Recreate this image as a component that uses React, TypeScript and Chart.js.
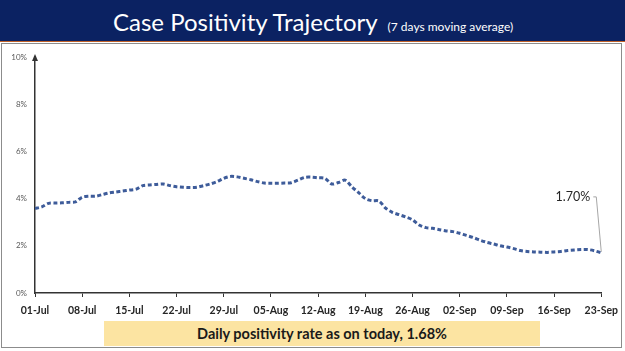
import React, { useEffect, useRef } from "react";
import { Chart, registerables } from "chart.js";

Chart.register(...registerables);

// ---- Data ----
const tickLabels = [
  "01-Jul", "08-Jul", "15-Jul", "22-Jul", "29-Jul", "05-Aug", "12-Aug",
  "19-Aug", "26-Aug", "02-Sep", "09-Sep", "16-Sep", "23-Sep",
];

// Daily 7-day moving average positivity (%), 01-Jul .. 23-Sep (85 days)
const positivity = [
  3.58, 3.65, 3.80, 3.81, 3.82, 3.84, 3.86,
  4.06, 4.10, 4.10, 4.17, 4.24, 4.28, 4.32,
  4.36, 4.40, 4.55, 4.58, 4.60, 4.62, 4.55,
  4.50, 4.48, 4.47, 4.48, 4.55, 4.62, 4.72,
  4.86, 4.94, 4.92, 4.86, 4.80, 4.72, 4.66,
  4.65, 4.65, 4.66, 4.67, 4.78, 4.90, 4.91,
  4.88, 4.86, 4.62, 4.68, 4.78, 4.50, 4.25,
  4.00, 3.91, 3.90, 3.60, 3.42, 3.32, 3.22,
  3.10, 2.88, 2.77, 2.74, 2.68, 2.63, 2.60,
  2.53, 2.44, 2.35, 2.24, 2.15, 2.08, 2.00,
  1.95, 1.88, 1.80, 1.76, 1.74, 1.73, 1.72,
  1.74, 1.76, 1.80, 1.82, 1.84, 1.84, 1.79,
  1.70,
];

const yMin = 0;
const yMax = 10;
const yStep = 2;
const xStepDays = 7;

const latestLabel = "1.70%";
const titleText = "Case Positivity Trajectory";
const subtitleText = "(7 days moving average)";
const footerText = "Daily positivity rate as on today, 1.68%";

const LINE_COLOR = "#3E5C9A";
const AXIS_COLOR = "#333333";

const overlayPlugin = {
  id: "overlay",
  afterDatasetsDraw(chart: any) {
    const { ctx, chartArea } = chart;
    // y-axis arrow head
    ctx.save();
    ctx.fillStyle = AXIS_COLOR;
    ctx.beginPath();
    ctx.moveTo(chartArea.left, chartArea.top - 3);
    ctx.lineTo(chartArea.left - 3, chartArea.top + 4);
    ctx.lineTo(chartArea.left + 3, chartArea.top + 4);
    ctx.closePath();
    ctx.fill();
    ctx.restore();

    // last value annotation
    const meta = chart.getDatasetMeta(0);
    const pt = meta.data[meta.data.length - 1];
    if (!pt) return;
    const tx = pt.x - 11;
    const ty = pt.y - 56;
    ctx.save();
    ctx.font = "12.5px Lato";
    ctx.fillStyle = "#262626";
    ctx.textAlign = "right";
    ctx.textBaseline = "middle";
    ctx.fillText(latestLabel, tx, ty);
    ctx.strokeStyle = "#A6A6A6";
    ctx.lineWidth = 1;
    ctx.beginPath();
    ctx.moveTo(tx + 3, ty);
    ctx.lineTo(tx + 6, ty);
    ctx.lineTo(pt.x, pt.y - 1);
    ctx.stroke();
    ctx.restore();
  },
};

function PositivityChart() {
  const ref = useRef<HTMLCanvasElement | null>(null);
  useEffect(() => {
    if (!ref.current) return;
    const chart = new Chart(ref.current, {
      type: "line",
      data: {
        datasets: [
          {
            data: positivity.map((v, i) => ({ x: i, y: v })),
            borderColor: LINE_COLOR,
            borderWidth: 3,
            borderDash: [4, 2.5],
            pointRadius: 0,
            tension: 0.3,
            fill: false,
          },
        ],
      },
      options: {
        animation: false,
        responsive: false,
        maintainAspectRatio: false,
        layout: { padding: { top: 13, right: 19, left: 0, bottom: 0 } },
        plugins: { legend: { display: false }, tooltip: { enabled: false } },
        scales: {
          x: {
            type: "linear",
            min: 0,
            max: positivity.length - 1,
            afterBuildTicks: (s: any) => {
              s.ticks = tickLabels.map((_, i) => ({ value: i * xStepDays }));
            },
            ticks: {
              callback: (v: any) => tickLabels[Math.round(Number(v) / xStepDays)],
              font: { family: "Lato", weight: "bold", size: 10.5 },
              color: "#262626",
              padding: 7,
              maxRotation: 0,
              autoSkip: false,
            },
            grid: {
              display: true,
              drawOnChartArea: false,
              drawTicks: true,
              tickLength: 4,
              color: AXIS_COLOR,
              lineWidth: 1,
            },
            border: { display: true, color: AXIS_COLOR, width: 1.5 },
            afterFit: (s: any) => {
              s.height = 31;
            },
          },
          y: {
            min: yMin,
            max: yMax,
            ticks: {
              stepSize: yStep,
              callback: (v: any) => `${v}%`,
              font: { family: "Lato", size: 8 },
              color: "#595959",
              padding: 8,
            },
            grid: { display: true, drawOnChartArea: false, drawTicks: false },
            border: { display: true, color: AXIS_COLOR, width: 1.5 },
            afterFit: (s: any) => {
              s.width = 35;
            },
          },
        },
      },
      plugins: [overlayPlugin],
    } as any);
    return () => chart.destroy();
  }, []);
  return (
    <canvas
      ref={ref}
      width={625}
      height={280}
      style={{ position: "absolute", left: 0, top: 44, width: 625, height: 280 }}
    />
  );
}

export default function App() {
  return (
    <div
      style={{
        position: "fixed",
        left: 0,
        top: 0,
        width: 625,
        height: 351,
        background: "#ffffff",
        overflow: "hidden",
        fontFamily: "Lato, sans-serif",
      }}
    >
      <div
        style={{
          position: "absolute",
          left: 0,
          top: 0,
          width: 625,
          height: 41,
          background: "#0B2262",
        }}
      />
      <div
        style={{
          position: "absolute",
          left: 113,
          top: 10,
          whiteSpace: "nowrap",
          color: "#ffffff",
          lineHeight: "24px",
        }}
      >
        <span style={{ fontSize: 24 }}>{titleText}</span>
        <span style={{ fontSize: 12, marginLeft: 10 }}>{subtitleText}</span>
      </div>
      <div
        style={{
          position: "absolute",
          left: 0,
          top: 41,
          width: 625,
          height: 1,
          background: "#C0622A",
        }}
      />
      <div
        style={{
          position: "absolute",
          left: 1,
          top: 43,
          width: 621,
          height: 305,
          border: "1px solid #8C8C8C",
          boxSizing: "border-box",
        }}
      />
      <PositivityChart />
      <div
        style={{
          position: "absolute",
          left: 104,
          top: 321,
          width: 436,
          height: 25,
          background: "#FCE4A2",
          display: "flex",
          alignItems: "center",
          justifyContent: "center",
          fontWeight: "bold",
          fontSize: 14.5,
          color: "#1a1a1a",
          whiteSpace: "nowrap",
        }}
      >
        {footerText}
      </div>
    </div>
  );
}
